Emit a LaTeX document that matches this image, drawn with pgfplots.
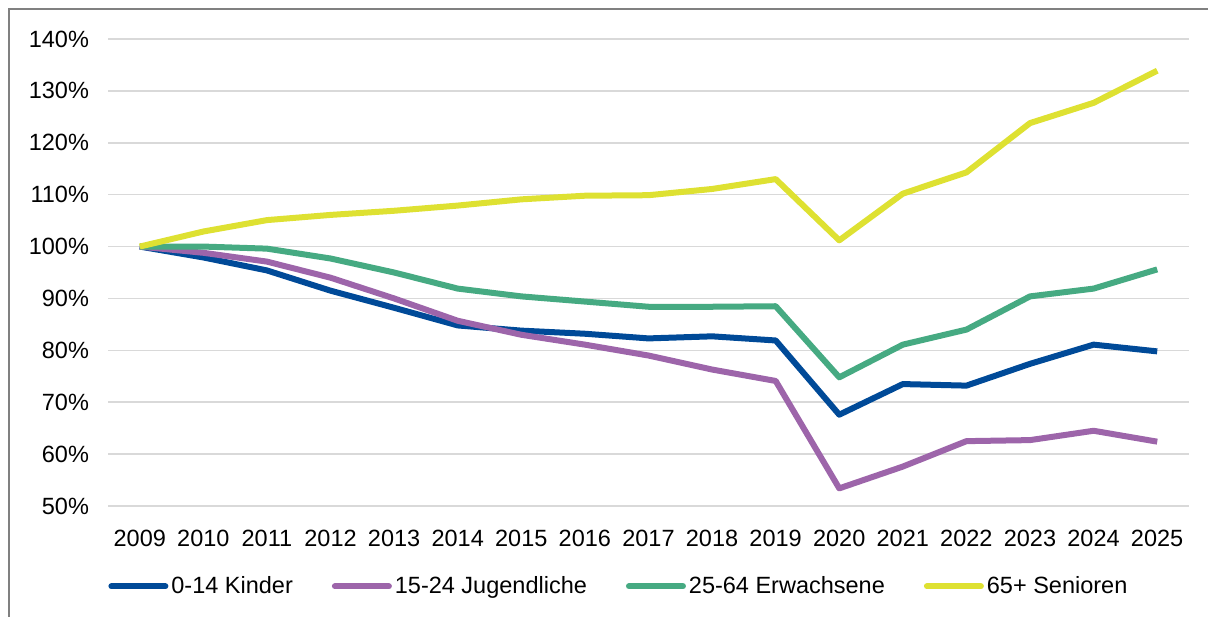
\documentclass[border=0pt]{standalone}
\usepackage{fontspec}
\setmainfont{Liberation Sans}
\usepackage{pgfplots}
\pgfplotsset{compat=1.18}
\definecolor{kblue}{RGB}{0,74,152}
\definecolor{jpurple}{RGB}{157,101,170}
\definecolor{egreen}{RGB}{70,170,130}
\definecolor{syellow}{RGB}{222,225,50}
\definecolor{gridgray}{RGB}{217,217,217}
\definecolor{framegray}{RGB}{128,128,128}

\begin{document}
\begin{tikzpicture}
\useasboundingbox (0,0) rectangle (604pt,308pt);
\draw[framegray, line width=1pt] (4.5pt,-5pt) -- (4.5pt,303.5pt) -- (610pt,303.5pt);
\begin{axis}[
  at={(54pt,55pt)}, anchor=south west,
  scale only axis,
  width=540.5pt, height=233.5pt,
  xmin=2008.5, xmax=2025.5,
  ymin=50, ymax=140,
  xtick={2009,...,2025},
  ytick={50,60,...,140},
  font=\fontsize{11.75}{14}\selectfont,
  /pgf/number format/assume math mode=true,
  /pgf/number format/1000 sep={},
  yticklabel={\pgfmathprintnumber{\tick}\%},
  yticklabel style={xshift=-6pt},
  xticklabel style={yshift=-8.5pt},
  axis line style={draw=none},
  major tick length=0pt,
  ymajorgrids,
  major grid style={gridgray, line width=0.75pt},
  every axis plot/.append style={line width=3pt, line join=round, no markers},
  legend columns=4,
  legend style={at={(0,-0.172)}, anchor=west, draw=none, fill=none,
    inner sep=0pt, font=\fontsize{11.75}{14}\selectfont,
    nodes={inner xsep=1.5pt},
    /tikz/every even column/.append style={column sep=18pt}},
  legend image code/.code={\draw[#1, line cap=round, line width=3pt] (0pt,0pt) -- (27pt,0pt);},
]
\addplot[kblue] coordinates {
(2009,100) (2010,97.9) (2011,95.4) (2012,91.5) (2013,88.2) (2014,84.8) (2015,83.8) (2016,83.2)
(2017,82.3) (2018,82.7) (2019,81.9) (2020,67.6) (2021,73.5) (2022,73.2) (2023,77.4) (2024,81.1) (2025,79.8)};
\addlegendentry{0-14 Kinder}
\addplot[jpurple] coordinates {
(2009,100) (2010,98.8) (2011,97.1) (2012,94.0) (2013,90.0) (2014,85.7) (2015,83.0) (2016,81.1)
(2017,79.0) (2018,76.3) (2019,74.1) (2020,53.4) (2021,57.6) (2022,62.5) (2023,62.7) (2024,64.5) (2025,62.4)};
\addlegendentry{15-24 Jugendliche}
\addplot[egreen] coordinates {
(2009,100) (2010,100) (2011,99.6) (2012,97.7) (2013,95.0) (2014,91.9) (2015,90.4) (2016,89.4)
(2017,88.4) (2018,88.4) (2019,88.5) (2020,74.8) (2021,81.1) (2022,84.0) (2023,90.4) (2024,91.9) (2025,95.6)};
\addlegendentry{25-64 Erwachsene}
\addplot[syellow] coordinates {
(2009,100) (2010,102.9) (2011,105.1) (2012,106.1) (2013,106.9) (2014,107.9) (2015,109.1) (2016,109.8)
(2017,109.9) (2018,111.1) (2019,113.0) (2020,101.2) (2021,110.2) (2022,114.3) (2023,123.8) (2024,127.7) (2025,133.9)};
\addlegendentry{65+ Senioren}
\end{axis}
\end{tikzpicture}
\end{document}
